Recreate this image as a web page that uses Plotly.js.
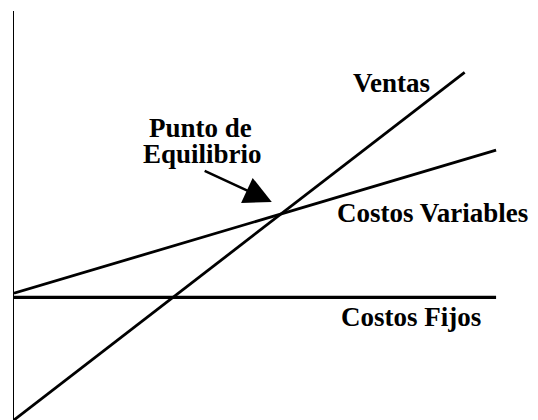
<!DOCTYPE html>
<html>
<head>
<meta charset="utf-8">
<script src="https://cdn.plot.ly/plotly-3.0.1.min.js"></script>
<style>html,body{margin:0;padding:0;background:#fff;}#chart{width:538px;height:420px;}</style>
</head>
<body>
<div id="chart"></div>
<script>
// Data (abstract units: volume on x, money on y)
const ventasX = [0, 86];
const ventasY = [0, 85];
const variablesX = [0, 92];
const variablesY = [31, 66];
const fijosX = [0, 92];
const fijosY = [30, 30];

const labels = ["Ventas", "Costos Variables", "Costos Fijos", "Punto de", "Equilibrio"];
const labelX = [72.1, 79.8, 75.8, 35.5, 36.0];
const labelY = [82.4, 50.6, 25.2, 71.4, 65.1];

// Arrow to break-even point
const arrowTail = [36.1, 61.1];
const arrowHead = [49.2, 53.3];

const lineStyle = {color: '#000', width: 2.8};

const traces = [
  {x: ventasX, y: ventasY, mode: 'lines', line: lineStyle, hoverinfo: 'skip'},
  {x: variablesX, y: variablesY, mode: 'lines', line: lineStyle, hoverinfo: 'skip'},
  {x: fijosX, y: fijosY, mode: 'lines', line: {color: '#000', width: 3.2}, hoverinfo: 'skip'}
];

const font = {family: 'Liberation Serif', size: 27, color: '#000'};

const annotations = labels.map((t, i) => ({
  x: labelX[i], y: labelY[i], xref: 'x', yref: 'y',
  text: '<b>' + t + '</b>', showarrow: false, font: font,
  xanchor: 'center', yanchor: 'middle'
}));
annotations.push({
  x: arrowHead[0], y: arrowHead[1], ax: arrowTail[0], ay: arrowTail[1],
  xref: 'x', yref: 'y', axref: 'x', ayref: 'y',
  text: '', showarrow: true, arrowhead: 2, arrowsize: 2.2, arrowwidth: 2.5, arrowcolor: '#000'
});

const layout = {
  width: 538, height: 420,
  margin: {l: 14, r: 0, t: 11, b: 0},
  paper_bgcolor: '#fff', plot_bgcolor: '#fff',
  showlegend: false,
  font: {family: 'Liberation Serif'},
  xaxis: {range: [0, 100], showgrid: false, zeroline: false, showline: false, showticklabels: false, ticks: ''},
  yaxis: {range: [0, 100], showgrid: false, zeroline: false, showline: true, linecolor: '#000', linewidth: 1.5, showticklabels: false, ticks: ''},
  annotations: annotations
};

Plotly.newPlot('chart', traces, layout, {staticPlot: true});
</script>
</body>
</html>
